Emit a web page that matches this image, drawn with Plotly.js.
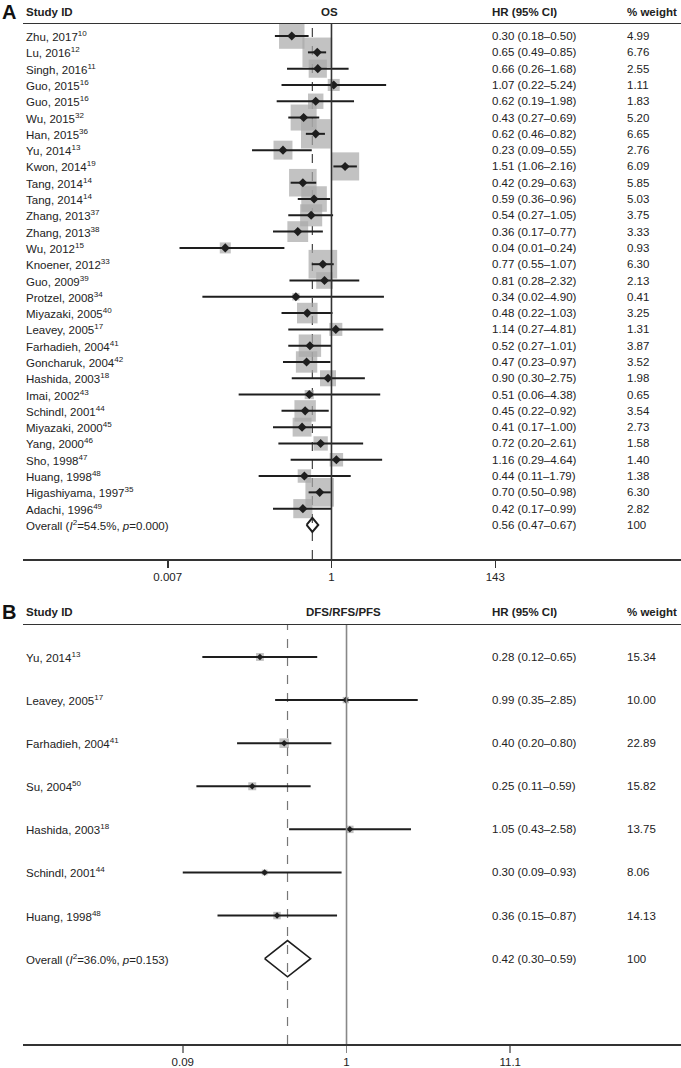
<!DOCTYPE html>
<html>
<head>
<meta charset="utf-8">
<script src="https://cdn.plot.ly/plotly-3.0.1.min.js"></script>
<style>html,body{margin:0;padding:0;background:#fff;}#chart{width:681px;height:1068px;}</style>
</head>
<body>
<div id="chart"></div>
<script>
// ---------- Panel A : OS ----------
const studiesA = ["Zhu, 2017","Lu, 2016","Singh, 2016","Guo, 2015","Guo, 2015","Wu, 2015","Han, 2015","Yu, 2014","Kwon, 2014","Tang, 2014","Tang, 2014","Zhang, 2013","Zhang, 2013","Wu, 2012","Knoener, 2012","Guo, 2009","Protzel, 2008","Miyazaki, 2005","Leavey, 2005","Farhadieh, 2004","Goncharuk, 2004","Hashida, 2003","Imai, 2002","Schindl, 2001","Miyazaki, 2000","Yang, 2000","Sho, 1998","Huang, 1998","Higashiyama, 1997","Adachi, 1996"];
const refsA = ["10","12","11","16","16","32","36","13","19","14","14","37","38","15","33","39","34","40","17","41","42","18","43","44","45","46","47","48","35","49"];
const hrA = [0.30,0.65,0.66,1.07,0.62,0.43,0.62,0.23,1.51,0.42,0.59,0.54,0.36,0.04,0.77,0.81,0.34,0.48,1.14,0.52,0.47,0.90,0.51,0.45,0.41,0.72,1.16,0.44,0.70,0.42];
const loA = [0.18,0.49,0.26,0.22,0.19,0.27,0.46,0.09,1.06,0.29,0.36,0.27,0.17,0.01,0.55,0.28,0.02,0.22,0.27,0.27,0.23,0.30,0.06,0.22,0.17,0.20,0.29,0.11,0.50,0.17];
const hiA = [0.50,0.85,1.68,5.24,1.98,0.69,0.82,0.55,2.16,0.63,0.96,1.05,0.77,0.24,1.07,2.32,4.90,1.03,4.81,1.01,0.97,2.75,4.38,0.92,1.00,2.61,4.64,1.79,0.98,0.99];
const wA = [4.99,6.76,2.55,1.11,1.83,5.20,6.65,2.76,6.09,5.85,5.03,3.75,3.33,0.93,6.30,2.13,0.41,3.25,1.31,3.87,3.52,1.98,0.65,3.54,2.73,1.58,1.40,1.38,6.30,2.82];
const overallA = {hr:0.56, lo:0.47, hi:0.67, label:"Overall (<i>I</i><sup>2</sup>=54.5%, <i>p</i>=0.000)", weight:"100"};
const ticksA = [0.007, 1, 143];
const tickTextA = ["0.007","1","143"];

// ---------- Panel B : DFS/RFS/PFS ----------
const studiesB = ["Yu, 2014","Leavey, 2005","Farhadieh, 2004","Su, 2004","Hashida, 2003","Schindl, 2001","Huang, 1998"];
const refsB = ["13","17","41","50","18","44","48"];
const hrB = [0.28,0.99,0.40,0.25,1.05,0.30,0.36];
const loB = [0.12,0.35,0.20,0.11,0.43,0.09,0.15];
const hiB = [0.65,2.85,0.80,0.59,2.58,0.93,0.87];
const wB = [15.34,10.00,22.89,15.82,13.75,8.06,14.13];
const overallB = {hr:0.42, lo:0.30, hi:0.59, label:"Overall (<i>I</i><sup>2</sup>=36.0%, <i>p</i>=0.153)", weight:"100"};
const ticksB = [0.09, 1, 11.1];
const tickTextB = ["0.09","1","11.1"];

// ---------- styling ----------
const W = 681, H = 1068;
const FONT = "Liberation Sans, Arial, Helvetica, sans-serif";
const TXT = "#222222";
const FS = 11.5;
const LABEL_X = 24/W, HR_X = 490/W, WT_X = 625/W;

function fmt(v){ return v.toFixed(2); }

function buildPanel(p) {
  const traces = [], anns = [], shapes = [];
  const n = p.studies.length;
  const idx = p.studies.map((_, i) => i);
  // weight boxes
  traces.push({
    type:"scatter", mode:"markers", xaxis:p.xa, yaxis:p.ya, hoverinfo:"skip",
    x:p.hr, y:idx,
    marker:{symbol:"square", color:"#a8a8a8", size:p.w.map(v => p.boxK*Math.sqrt(v)), line:{width:0}}
  });
  // CI lines
  const cx = [], cy = [];
  for (let i = 0; i < n; i++) { cx.push(p.lo[i], p.hi[i], null); cy.push(i, i, null); }
  traces.push({type:"scatter", mode:"lines", xaxis:p.xa, yaxis:p.ya, hoverinfo:"skip",
    x:cx, y:cy, line:{color:"#1e1e1e", width:2}});
  // point estimates
  traces.push({type:"scatter", mode:"markers", xaxis:p.xa, yaxis:p.ya, hoverinfo:"skip",
    x:p.hr, y:idx, marker:{symbol:"diamond", color:"#1e1e1e", size:p.dot, line:{width:0}}});
  // overall diamond
  const o = p.overall, yo = n, hd = p.dHalf;
  traces.push({type:"scatter", mode:"lines", xaxis:p.xa, yaxis:p.ya, hoverinfo:"skip",
    x:[o.lo, o.hr, o.hi, o.hr, o.lo], y:[yo, yo - hd, yo, yo + hd, yo],
    fill:"toself", fillcolor:"rgba(255,255,255,0)", line:{color:"#1e1e1e", width:p.dLine}});

  // reference lines
  shapes.push({type:"line", xref:p.xa, yref:p.ya + " domain", x0:o.hr, x1:o.hr, y0:0, y1:1,
    line:{color:p.dashColor, width:1.2, dash:"dash"}, layer:"below"});
  shapes.push({type:"line", xref:p.xa, yref:p.ya + " domain", x0:1, x1:1, y0:0, y1:1,
    line:{color:p.nullColor, width:1.6}, layer:"above"});

  // texts
  const yref = p.ya;
  for (let i = 0; i < n; i++) {
    anns.push({xref:"paper", yref:yref, x:LABEL_X, y:i, xanchor:"left", yanchor:"middle", showarrow:false,
      text:p.studies[i] + "<sup>" + p.refs[i] + "</sup>", font:{family:FONT, size:FS, color:TXT}});
    anns.push({xref:"paper", yref:yref, x:HR_X, y:i, xanchor:"left", yanchor:"middle", showarrow:false,
      text:fmt(p.hr[i]) + " (" + fmt(p.lo[i]) + "–" + fmt(p.hi[i]) + ")", font:{family:FONT, size:FS, color:TXT}});
    anns.push({xref:"paper", yref:yref, x:WT_X, y:i, xanchor:"left", yanchor:"middle", showarrow:false,
      text:fmt(p.w[i]), font:{family:FONT, size:FS, color:TXT}});
  }
  anns.push({xref:"paper", yref:yref, x:LABEL_X, y:n, xanchor:"left", yanchor:"middle", showarrow:false,
    text:o.label, font:{family:FONT, size:FS, color:TXT}});
  anns.push({xref:"paper", yref:yref, x:HR_X, y:n, xanchor:"left", yanchor:"middle", showarrow:false,
    text:fmt(o.hr) + " (" + fmt(o.lo) + "–" + fmt(o.hi) + ")", font:{family:FONT, size:FS, color:TXT}});
  anns.push({xref:"paper", yref:yref, x:WT_X, y:n, xanchor:"left", yanchor:"middle", showarrow:false,
    text:o.weight, font:{family:FONT, size:FS, color:TXT}});

  // headers
  const hy = 1 - p.headerPx / H;
  const hb = {family:FONT, size:FS, color:TXT};
  anns.push({xref:"paper", yref:"paper", x:0, y:hy, xanchor:"left", yanchor:"middle", showarrow:false,
    text:"<b>" + p.letter + "</b>", font:{family:FONT, size:20, color:"#111"}});
  anns.push({xref:"paper", yref:"paper", x:LABEL_X, y:hy, xanchor:"left", yanchor:"middle", showarrow:false,
    text:"<b>Study ID</b>", font:hb});
  anns.push({xref:"paper", yref:"paper", x:p.titleX / W, y:hy, xanchor:"center", yanchor:"middle", showarrow:false,
    text:"<b>" + p.title + "</b>", font:hb});
  anns.push({xref:"paper", yref:"paper", x:HR_X, y:hy, xanchor:"left", yanchor:"middle", showarrow:false,
    text:"<b>HR (95% CI)</b>", font:hb});
  anns.push({xref:"paper", yref:"paper", x:WT_X, y:hy, xanchor:"left", yanchor:"middle", showarrow:false,
    text:"<b>% weight</b>", font:hb});
  return {traces, anns, shapes};
}

const A = buildPanel({xa:"x", ya:"y", studies:studiesA, refs:refsA, hr:hrA, lo:loA, hi:hiA, w:wA,
  overall:overallA, boxK:11.4, dot:7, dHalf:0.43, dLine:2, dashColor:"#444", nullColor:"#333",
  letter:"A", title:"OS", titleX:329, headerPx:12});
const B = buildPanel({xa:"x2", ya:"y2", studies:studiesB, refs:refsB, hr:hrB, lo:loB, hi:hiB, w:wB,
  overall:overallB, boxK:2.0, dot:5, dHalf:0.42, dLine:1.6, dashColor:"#777", nullColor:"#888",
  letter:"B", title:"DFS/RFS/PFS", titleX:343, headerPx:612});

function xAxis(range, tv, tt, anchor, tickColor) {
  return {type:"log", range:range, domain:[23/W, 1], anchor:anchor,
    showline:true, mirror:true, linecolor:"#333", linewidth:1.5,
    showgrid:false, zeroline:false, ticks:"outside", ticklen:7, tickwidth:1.5, tickcolor:tickColor,
    tickvals:tv, ticktext:tt, tickfont:{family:FONT, size:FS, color:TXT}, fixedrange:true};
}
function yAxis(domainPx, range) {
  return {domain:[1 - domainPx[1]/H, 1 - domainPx[0]/H], range:range, visible:false,
    showgrid:false, zeroline:false, fixedrange:true};
}

const layout = {
  width:W, height:H, margin:{l:0, r:0, t:0, b:0},
  paper_bgcolor:"#fff", plot_bgcolor:"rgba(0,0,0,0)", showlegend:false,
  xaxis: xAxis([-4.06, 4.60], ticksA, tickTextA, "y", "#333"),
  yaxis: yAxis([24, 559], [32.09, -0.74]),
  xaxis2: xAxis([-2.066, 2.136], ticksB, tickTextB, "y2", "#888"),
  yaxis2: yAxis([625, 1044], [8.98, -0.742]),
  annotations: A.anns.concat(B.anns),
  shapes: A.shapes.concat(B.shapes)
};

Plotly.newPlot("chart", A.traces.concat(B.traces), layout, {staticPlot:true, displayModeBar:false});
</script>
</body>
</html>
